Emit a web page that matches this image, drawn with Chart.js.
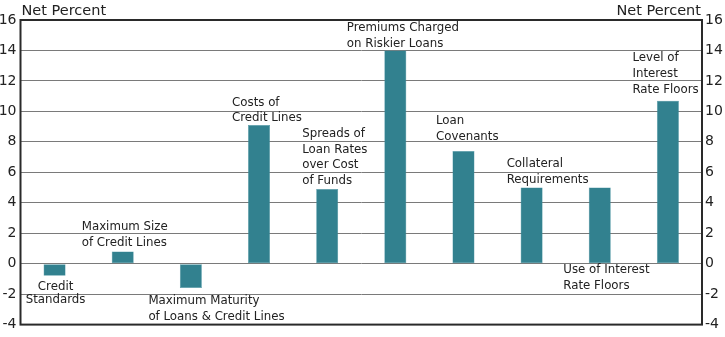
<!DOCTYPE html>
<html>
<head>
<meta charset="utf-8">
<script src="https://cdn.jsdelivr.net/npm/chart.js@4"></script>
<style>
  html, body { margin: 0; padding: 0; background: #fff; }
  #wrap { width: 725px; height: 337px; position: relative; }
</style>
</head>
<body>
<div id="wrap"><canvas id="myChart" width="725" height="337"></canvas></div>
<script>
// chart data
const categories = [
  ["Credit", "Standards"],
  ["Maximum Size", "of Credit Lines"],
  ["Maximum Maturity", "of Loans & Credit Lines"],
  ["Costs of", "Credit Lines"],
  ["Spreads of", "Loan Rates", "over Cost", "of Funds"],
  ["Premiums Charged", "on Riskier Loans"],
  ["Loan", "Covenants"],
  ["Collateral", "Requirements"],
  ["Use of Interest", "Rate Floors"],
  ["Level of", "Interest", "Rate Floors"]
];
const netPercent = [-0.8, 0.8, -1.6, 9.1, 4.9, 14.0, 7.4, 5.0, 5.0, 10.7];
const yTicks = [-4, -2, 0, 2, 4, 6, 8, 10, 12, 14, 16];
const axisTitle = "Net Percent";

// where each label sits: y of first line (in axis units), x shift from bar centre
const labelY = [-1.55, 2.4, -2.45, 10.58, 8.53, 15.45, 9.38, 6.56, -0.44, 13.48];
const labelDx = [0, -41, -42.5, -27, -25, -48.5, -27.5, -25, -36.5, -35.5];

const txtColor = "#222";
const font = "DejaVu Sans";

const labelPlugin = {
  id: "barLabels",
  afterDraw(chart) {
    const ctx = chart.ctx;
    const xs = chart.scales.x;
    const ys = chart.scales.y;
    const area = chart.chartArea;
    ctx.save();

    // frame round the plot
    ctx.strokeStyle = "#2a2a2a";
    ctx.lineWidth = 2;
    ctx.strokeRect(area.left, area.top, area.right - area.left, area.bottom - area.top);

    // axis titles
    ctx.fillStyle = txtColor;
    ctx.font = "14.5px '" + font + "'";
    ctx.textBaseline = "alphabetic";
    ctx.textAlign = "left";
    ctx.fillText(axisTitle, area.left + 1, area.top - 5);
    ctx.textAlign = "right";
    ctx.fillText(axisTitle, area.right - 1, area.top - 5);

    // category labels
    ctx.font = "11.8px '" + font + "'";
    ctx.textBaseline = "middle";
    categories.forEach((lines, i) => {
      const cx = xs.getPixelForValue(i);
      const y0 = ys.getPixelForValue(labelY[i]);
      const centered = i === 0;
      const lh = centered ? 12.5 : 15.7;
      ctx.textAlign = centered ? "center" : "left";
      lines.forEach((t, j) => {
        ctx.fillText(t, cx + labelDx[i] + (centered ? 1 : 0), y0 + j * lh);
      });
    });
    ctx.restore();
  }
};

const tickFont = { family: font, size: 14 };

new Chart(document.getElementById("myChart").getContext("2d"), {
  type: "bar",
  data: {
    labels: categories.map(c => c.join(" ")),
    datasets: [{
      data: netPercent,
      backgroundColor: "#32818f",
      borderColor: "#4a95a3",
      borderWidth: 0.5,
      borderSkipped: false,
      categoryPercentage: 1,
      barPercentage: 0.323
    }]
  },
  options: {
    responsive: false,
    animation: false,
    layout: { padding: { top: 20, bottom: 11, left: 0, right: 0 } },
    plugins: {
      legend: { display: false },
      tooltip: { enabled: false }
    },
    scales: {
      x: { display: false },
      y: {
        position: "left",
        min: -4,
        max: 16,
        afterBuildTicks: axis => { axis.ticks = yTicks.map(v => ({ value: v })); },
        afterFit: axis => { axis.width = 20.5; },
        border: { display: false },
        grid: { color: "#7a7a7a", lineWidth: 1, drawTicks: false },
        ticks: { color: txtColor, font: tickFont, padding: 4 }
      },
      y2: {
        position: "right",
        min: -4,
        max: 16,
        afterBuildTicks: axis => { axis.ticks = yTicks.map(v => ({ value: v })); },
        afterFit: axis => { axis.width = 23; },
        border: { display: false },
        grid: { display: false, drawTicks: false },
        ticks: { color: txtColor, font: tickFont, padding: 3 }
      }
    }
  },
  plugins: [labelPlugin]
});
</script>
</body>
</html>
